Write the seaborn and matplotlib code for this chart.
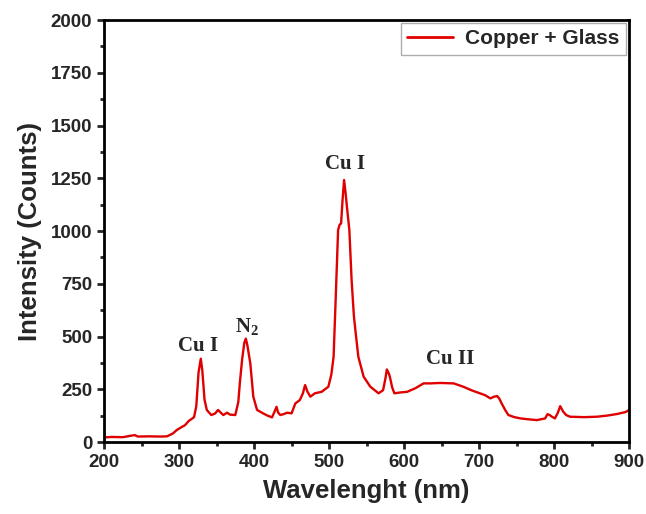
import pandas as pd
import matplotlib.pyplot as plt
import seaborn as sns
from matplotlib.ticker import MultipleLocator

# Spectrum points (nm, counts)
wavelength = [200, 210, 225, 241, 245, 260, 275, 284, 292, 297, 303, 308, 313, 317, 320,
              323, 326, 329, 331, 334, 337, 343, 348, 352, 356, 359, 364, 368, 375, 379,
              381, 384, 387, 389, 391, 395, 399, 404, 412, 418, 424, 428, 430, 432, 435,
              440, 444, 450, 455, 461, 465, 468, 471, 475, 481, 490, 499, 503, 506, 509,
              512, 514, 516, 518, 520, 522, 524, 527, 530, 533, 535, 539, 546, 555, 566,
              572, 575, 577, 579, 581, 584, 587, 595, 604, 615, 626, 635, 648, 666, 679,
              690, 701, 708, 715, 720, 724, 727, 730, 735, 739, 747, 755, 765, 777, 788,
              791, 794, 797, 801, 805, 808, 812, 816, 821, 840, 857, 870, 884, 895, 900]
intensity = [22, 24, 23, 33, 26, 27, 26, 27, 41, 57, 70, 80, 100, 110, 118,
             170, 330, 395, 340, 200, 152, 128, 135, 152, 138, 128, 139, 130, 128, 190,
             278, 389, 470, 490, 460, 373, 215, 152, 136, 125, 117, 150, 167, 140, 128,
             133, 139, 136, 183, 199, 230, 270, 240, 215, 231, 238, 262, 320, 404, 700,
             1005, 1030, 1036, 1150, 1242, 1180, 1107, 1005, 768, 600, 531, 404, 310, 262, 231,
             246, 300, 344, 330, 310, 260, 231, 235, 238, 255, 278, 278, 280, 278, 262,
             245, 231, 222, 207, 215, 218, 205, 183, 150, 128, 118, 112, 108, 104, 112,
             132, 128, 120, 112, 140, 170, 144, 128, 120, 118, 120, 125, 133, 142, 152]

# Peak labels
peak_labels = ["Cu I", "N$_\\mathbf{2}$", "Cu I", "Cu II"]
label_x = [325, 390, 521, 662]
label_y = [457, 545, 1320, 393]

df = pd.DataFrame({"Wavelength": wavelength, "Intensity": intensity})

sns.set_style("ticks")
plt.rcParams["font.family"] = ["Liberation Sans", "DejaVu Sans"]
plt.rcParams["mathtext.fontset"] = "custom"
plt.rcParams["mathtext.rm"] = "Liberation Serif:bold"
plt.rcParams["mathtext.bf"] = "Liberation Serif:bold"

fig = plt.figure(figsize=(6.46, 5.14), dpi=100)
ax = fig.add_axes([0.161, 0.140, 0.813, 0.821])

sns.lineplot(
    x="Wavelength",
    y="Intensity",
    data=df,
    color="#e00000",
    linewidth=1.7,
    label="Copper + Glass",
    ax=ax
)

ax.set_xlim(200, 900)
ax.set_ylim(0, 2000)
ax.xaxis.set_major_locator(MultipleLocator(100))
ax.xaxis.set_minor_locator(MultipleLocator(50))
ax.yaxis.set_major_locator(MultipleLocator(250))
ax.yaxis.set_minor_locator(MultipleLocator(125))

for s in ax.spines.values():
    s.set_linewidth(2)
    s.set_color("black")

ax.tick_params(which="major", direction="out", length=5, width=2, labelsize=13.5)
ax.tick_params(which="minor", direction="out", length=3, width=2)
for t in ax.get_xticklabels() + ax.get_yticklabels():
    t.set_fontweight("bold")

ax.set_xlabel("Wavelenght (nm)", fontsize=18.5, fontweight="bold", labelpad=6)
ax.set_ylabel("Intensity (Counts)", fontsize=18.5, fontweight="bold", labelpad=6)

for txt, x, y in zip(peak_labels, label_x, label_y):
    ax.text(x, y, txt, ha="center", va="center", fontsize=15,
            fontweight="bold", family="Liberation Serif")

leg = ax.legend(
    loc="upper right",
    fontsize=15,
    frameon=True,
    fancybox=False,
    edgecolor="#999999",
    handlelength=2.2,
    handletextpad=0.6,
    borderaxespad=0.15,
    borderpad=0.3
)
for t in leg.get_texts():
    t.set_fontweight("bold")
leg.get_lines()[0].set_linewidth(2)

plt.savefig("out.png", dpi=100)
